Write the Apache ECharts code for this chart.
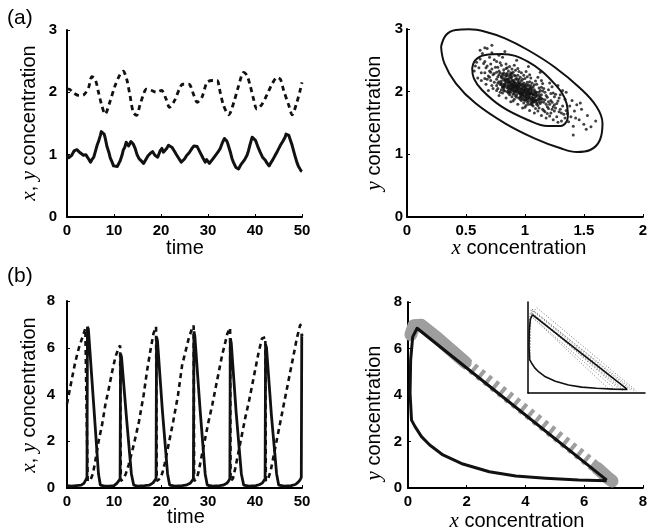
<!DOCTYPE html>
<html>
<head>
<meta charset="utf-8">
<script src="https://cdn.jsdelivr.net/npm/echarts@6/dist/echarts.min.js"></script>
<style>
  html, body { margin: 0; padding: 0; background: #fff; }
  #chart { width: 650px; height: 532px; }
</style>
</head>
<body>
<div id="chart"></div>
<script>
// ---------- (a) noisy near-equilibrium run ----------
// time, x concentration (solid)
const aSolid = [[0,0.99],[0.35,0.95],[0.7,0.94],[1.0,0.99],[1.2,1.0],[1.5,1.06],[1.8,1.04],[2.1,1.08],[2.5,1.07],[2.8,1.03],[3.2,1.02],[3.5,0.99],[3.8,0.97],[4.0,1.0],[4.3,0.99],[4.6,0.93],[5.0,0.88],[5.3,0.92],[5.7,0.96],[6.0,1.04],[6.4,1.15],[6.7,1.21],[7.1,1.31],[7.3,1.37],[7.6,1.39],[7.9,1.33],[8.15,1.26],[8.5,1.13],[8.9,1.04],[9.2,0.95],[9.6,0.88],[9.9,0.82],[10.3,0.80],[10.7,0.81],[11.0,0.83],[11.3,0.90],[11.7,0.99],[12.0,1.08],[12.3,1.12],[12.6,1.20],[12.8,1.18],[13.1,1.14],[13.3,1.16],[13.6,1.21],[13.8,1.23],[14.1,1.17],[14.5,1.10],[14.9,1.00],[15.3,0.94],[15.8,0.90],[16.3,0.86],[16.6,0.90],[16.9,0.92],[17.2,0.98],[17.4,0.99],[17.7,1.02],[18.0,1.0],[18.2,1.05],[18.4,1.04],[18.7,0.99],[19.0,1.01],[19.3,0.96],[19.5,0.99],[19.8,1.06],[20.2,1.10],[20.5,1.04],[20.9,1.02],[21.2,1.10],[21.6,1.15],[21.9,1.16],[22.3,1.12],[22.6,1.09],[22.9,1.05],[23.2,1.01],[23.4,0.99],[23.7,0.95],[24.0,0.93],[24.3,0.88],[24.5,0.87],[25.0,0.93],[25.5,0.99],[26.0,1.03],[26.6,1.10],[27.0,1.14],[27.4,1.16],[27.7,1.13],[27.9,1.10],[28.1,1.07],[28.4,1.04],[28.9,0.95],[29.4,0.88],[29.7,0.92],[30.0,0.91],[30.3,0.86],[30.5,0.88],[31.0,0.93],[31.6,0.99],[32.1,1.04],[32.6,1.10],[33.0,1.18],[33.5,1.26],[33.8,1.23],[34.0,1.22],[34.2,1.18],[34.4,1.15],[34.8,1.03],[35.1,0.94],[35.4,0.88],[35.6,0.85],[35.9,0.80],[36.2,0.78],[36.5,0.77],[36.7,0.80],[37.0,0.84],[37.2,0.86],[37.8,0.92],[38.3,0.99],[38.6,1.06],[38.9,1.15],[39.2,1.23],[39.4,1.28],[39.6,1.25],[39.8,1.27],[40.1,1.23],[40.6,1.13],[41.1,1.04],[41.6,0.96],[42.2,0.91],[42.5,0.87],[42.8,0.86],[43.0,0.82],[43.3,0.86],[43.8,0.92],[44.3,0.99],[44.8,1.06],[45.4,1.15],[45.9,1.21],[46.4,1.28],[46.6,1.33],[46.8,1.32],[47.0,1.34],[47.2,1.31],[47.5,1.24],[47.9,1.15],[48.4,1.01],[48.9,0.88],[49.2,0.82],[49.5,0.78],[49.8,0.74],[50.0,0.73]];
// time, y concentration (dashed)
const aDashed = [[0,2.05],[0.4,2.05],[1.4,1.99],[2.5,1.95],[3.55,1.96],[4.6,2.08],[5.3,2.25],[6.0,2.21],[6.7,2.0],[7.4,1.79],[8.1,1.65],[9.1,1.84],[10.2,2.1],[11.3,2.29],[11.95,2.34],[12.7,2.21],[13.4,1.95],[14.1,1.68],[14.8,1.63],[15.5,1.79],[16.2,1.95],[16.9,2.05],[18.0,2.03],[19.0,2.0],[20.1,2.03],[21.1,1.89],[21.8,1.76],[22.9,1.87],[23.9,2.05],[24.6,2.13],[25.9,2.13],[27.0,1.95],[27.7,1.84],[28.7,1.92],[29.8,2.16],[30.9,2.19],[31.9,2.19],[32.6,2.0],[33.3,1.79],[34.4,1.64],[35.5,1.84],[36.5,2.1],[37.6,2.32],[38.3,2.27],[39.0,2.1],[39.7,1.89],[40.4,1.73],[41.5,1.81],[42.6,1.97],[43.6,2.13],[44.7,2.24],[45.4,2.21],[46.1,2.03],[47.2,1.79],[47.9,1.64],[48.9,1.84],[49.6,2.03],[50.0,2.16]];

// sampled (x, y) states
const cloudPoints = [
[0.58,2.41],[0.60,2.22],[0.62,2.52],[0.63,2.30],[0.61,2.38],[0.64,2.61],[0.57,2.33],[0.65,2.45],[0.63,2.18],[0.59,2.47],
[0.66,2.30],[0.67,2.12],[0.68,2.41],[0.69,2.25],[0.70,2.55],[0.71,2.18],[0.72,2.36],[0.73,2.05],[0.74,2.29],[0.66,2.48],[0.68,2.20],[0.70,2.33],[0.72,2.62],[0.74,2.15],[0.67,2.38],[0.69,2.02],[0.71,2.44],[0.73,2.27],[0.75,2.39],[0.70,2.23],[0.68,2.69],[0.72,2.10],[0.74,2.51],[0.66,2.21],[0.71,2.31],
[0.76,2.20],[0.77,2.05],[0.78,2.33],[0.79,2.12],[0.80,2.42],[0.81,1.98],[0.82,2.26],[0.83,2.08],[0.84,2.37],[0.85,2.15],
[0.76,2.48],[0.77,2.24],[0.78,1.94],[0.79,2.30],[0.80,2.11],[0.81,2.55],[0.82,2.02],[0.83,2.21],[0.84,1.90],[0.85,2.29],
[0.76,2.10],[0.77,2.39],[0.78,2.16],[0.79,2.46],[0.80,2.23],[0.81,2.07],[0.82,2.35],[0.83,2.64],[0.84,2.19],[0.85,2.00],
[0.76,2.31],[0.78,2.27],[0.80,2.03],[0.82,2.19],[0.84,2.44],[0.77,2.14],[0.79,1.99],[0.81,2.28],[0.83,2.12],[0.85,2.38],
[0.80,2.17],[0.78,2.58],[0.82,2.09],[0.76,2.02],[0.84,2.25],
[0.86,2.10],[0.87,1.95],[0.88,2.22],[0.89,2.03],[0.90,2.31],[0.91,1.88],[0.92,2.14],[0.93,2.00],[0.94,2.26],[0.95,2.07],
[0.86,2.33],[0.87,2.15],[0.88,1.84],[0.89,2.19],[0.90,2.01],[0.91,2.42],[0.92,1.93],[0.93,2.11],[0.94,1.80],[0.95,2.20],
[0.86,1.98],[0.87,2.27],[0.88,2.06],[0.89,2.36],[0.90,2.12],[0.91,1.97],[0.92,2.25],[0.93,2.50],[0.94,2.08],[0.95,1.90],
[0.86,2.20],[0.87,2.04],[0.88,2.30],[0.89,1.92],[0.90,2.18],[0.91,2.07],[0.92,2.02],[0.93,2.21],[0.94,2.14],[0.95,2.32],
[0.86,2.06],[0.87,2.40],[0.88,2.13],[0.89,2.09],[0.90,1.85],[0.91,2.16],[0.92,2.34],[0.93,1.95],[0.94,2.03],[0.95,2.12],
[0.88,1.99],[0.90,2.08],[0.92,2.10],[0.94,2.37],[0.86,2.13],[0.89,2.24],[0.91,2.00],[0.93,2.06],[0.95,1.98],[0.87,2.09],
[0.96,2.00],[0.97,1.86],[0.98,2.12],[0.99,1.93],[1.00,2.21],[1.01,1.78],[1.02,2.04],[1.03,1.90],[1.04,2.16],[1.05,1.97],
[0.96,2.23],[0.97,2.05],[0.98,1.74],[0.99,2.09],[1.00,1.91],[1.01,2.32],[1.02,1.83],[1.03,2.01],[1.04,1.70],[1.05,2.10],
[0.96,1.88],[0.97,2.17],[0.98,1.96],[0.99,2.26],[1.00,2.02],[1.01,1.87],[1.02,2.15],[1.03,2.40],[1.04,1.98],[1.05,1.80],
[0.96,2.10],[0.97,1.94],[0.98,2.20],[0.99,1.82],[1.00,2.08],[1.01,1.97],[1.02,1.92],[1.03,2.11],[1.04,2.04],[1.05,2.22],
[0.96,1.96],[0.97,2.30],[0.98,2.03],[0.99,1.99],[1.00,1.75],[1.01,2.06],[1.02,2.24],[1.03,1.85],[1.04,1.93],[1.05,2.02],
[0.98,1.89],[1.00,1.98],[1.02,2.00],[1.04,2.27],[0.96,2.03],[0.99,2.14],[1.01,1.90],[1.03,1.96],[1.05,1.88],[0.97,1.99],
[1.06,1.92],[1.07,1.77],[1.08,2.03],[1.09,1.85],[1.10,2.12],[1.11,1.69],[1.12,1.95],[1.13,1.81],[1.14,2.07],[1.15,1.88],
[1.06,2.14],[1.07,1.96],[1.08,1.66],[1.09,2.00],[1.10,1.82],[1.11,2.23],[1.12,1.74],[1.13,1.92],[1.14,1.62],[1.15,2.01],
[1.06,1.79],[1.07,2.08],[1.08,1.87],[1.09,2.17],[1.10,1.93],[1.11,1.78],[1.12,2.06],[1.13,2.31],[1.14,1.89],[1.15,1.72],
[1.06,2.01],[1.07,1.85],[1.08,2.11],[1.09,1.73],[1.10,1.99],[1.11,1.88],[1.12,1.83],[1.13,2.02],[1.14,1.95],[1.15,2.13],
[1.08,1.90],[1.10,1.86],[1.12,1.91],[1.14,2.18],[1.06,1.87],
[1.16,1.83],[1.17,1.68],[1.18,1.94],[1.19,1.76],[1.20,2.03],[1.21,1.61],[1.22,1.86],[1.23,1.72],[1.24,1.98],[1.25,1.79],
[1.16,2.05],[1.17,1.87],[1.18,1.58],[1.19,1.91],[1.20,1.73],[1.21,2.14],[1.22,1.66],[1.23,1.83],[1.24,1.55],[1.25,1.92],
[1.16,1.70],[1.18,1.80],[1.20,1.84],[1.22,1.97],[1.24,1.76],[1.17,1.99],[1.19,1.65],[1.21,1.80],[1.23,2.08],[1.25,1.69],
[1.26,1.74],[1.27,1.60],[1.28,1.85],[1.29,1.68],[1.30,1.95],[1.31,1.53],[1.32,1.77],[1.33,1.64],[1.34,1.88],[1.35,1.70],
[1.26,1.96],[1.28,1.51],[1.30,1.72],[1.32,2.02],[1.34,1.58],[1.27,1.81],[1.29,1.90],[1.31,1.66],
[1.36,1.65],[1.37,1.52],[1.38,1.77],[1.39,1.60],[1.40,1.86],[1.41,1.45],[1.42,1.69],[1.44,1.79],[1.43,1.58],
[1.46,1.55],[1.48,1.72],[1.50,1.48],[1.53,1.62],[1.56,1.44],[1.60,1.53],
[0.66,2.70],[0.72,2.74],[0.62,2.66],[1.41,1.31],[1.52,1.40],[1.28,2.10],[1.35,1.99],[1.47,1.82],
[0.80,2.14],[0.81,2.22],[0.82,2.12],[0.83,2.17],[0.84,2.10],[0.85,2.20],[0.86,2.08],[0.87,2.16],[0.88,2.03],[0.89,2.12],
[0.90,2.06],[0.91,2.13],[0.92,2.01],[0.93,2.09],[0.94,1.99],[0.95,2.06],[0.96,1.97],[0.97,2.04],[0.98,1.95],[0.99,2.02],
[1.00,1.93],[1.01,2.01],[1.02,1.95],[1.03,2.04],[1.04,1.90],[1.05,1.98],[1.06,1.88],[1.07,1.95],[1.08,1.84],[1.09,1.92],
[0.80,2.25],[0.82,2.05],[0.84,2.28],[0.86,2.18],[0.88,2.26],[0.90,1.96],[0.92,2.20],[0.94,2.10],[0.96,2.13],[0.98,2.08],
[1.00,2.10],[1.02,1.88],[1.04,2.08],[1.06,1.97],[1.08,2.00],[1.10,1.80],[1.12,1.87],[1.14,1.84],[0.83,2.01],[0.87,1.99],
[0.89,2.29],[0.91,2.04],[0.93,1.91],[0.95,2.15],[0.97,2.11],[0.99,1.87],[1.01,2.12],[1.03,1.80],[1.05,2.06],[1.07,1.83],
[0.85,2.06],[0.88,2.16],[0.91,2.26],[0.94,2.18],[0.97,1.91],[1.00,2.04],[1.03,1.99],[1.06,2.05],[1.09,1.97],[1.12,1.99],
[0.81,2.08],[0.84,2.15],[0.87,2.23],[0.90,2.16],[0.93,2.03],[0.96,1.92],[0.99,2.05],[1.02,2.09],[1.05,1.84],[1.08,1.95],
[0.86,2.02],[0.89,2.06],[0.92,2.07],[0.95,2.00],[0.98,1.99],[1.01,1.95],[1.04,1.96],[1.07,1.90],[1.10,1.95],[1.13,1.88],
[0.82,2.30],[0.85,2.25],[0.88,2.10],[0.91,2.10],[0.94,2.05],[0.97,1.97],[1.00,1.86],[1.03,1.91],[1.06,1.82],[1.09,1.86]
];
// contour outlines around the sampled states
const outerContour = [[0.289,2.717],[0.331,2.904],[0.414,2.984],[0.525,2.995],[0.664,2.957],[0.831,2.851],[1.025,2.665],[1.248,2.398],[1.469,2.054],[1.608,1.760],[1.658,1.495],[1.636,1.229],[1.553,1.069],[1.442,1.037],[1.303,1.096],[1.081,1.256],[0.831,1.495],[0.581,1.814],[0.414,2.133],[0.317,2.452],[0.289,2.717]];
const innerContour = [[0.553,2.373],[0.581,2.505],[0.664,2.585],[0.803,2.601],[1.025,2.478],[1.248,2.133],[1.353,1.814],[1.364,1.600],[1.303,1.452],[1.192,1.452],[1.025,1.548],[0.803,1.760],[0.636,2.026],[0.567,2.213],[0.553,2.373]];

// ---------- (b) relaxation oscillations ----------
const bSolid = [[0,0.1],[1,0.08],[2,0.1],[3,0.12],[3.6,0.2],[4.0,0.35],[4.25,0.45],[4.35,6.9],[4.55,6.8],[5.7,3.5],[6.7,0.6],[7.1,0.12],[8,0.08],
[9,0.08],[10,0.1],[10.6,0.2],[11.0,0.3],[11.3,0.4],[11.4,5.75],[11.6,5.6],[12.7,2.9],[13.7,0.6],[14.2,0.12],[15,0.08],[16.5,0.1],
[17.5,0.12],[18.3,0.22],[18.7,0.3],[18.95,0.4],[19.05,6.47],[19.25,6.3],[20.3,3.3],[21.4,0.6],[21.85,0.12],[23,0.08],[24.5,0.1],
[25.3,0.12],[26.2,0.2],[26.6,0.3],[26.9,0.4],[27.0,6.7],[27.2,6.5],[28.3,3.4],[29.4,0.6],[29.85,0.12],[31,0.08],[32.5,0.1],
[33.2,0.12],[34.0,0.2],[34.4,0.3],[34.65,0.4],[34.75,6.4],[34.95,6.2],[36.0,3.2],[37.1,0.6],[37.6,0.12],[38.7,0.08],[40.2,0.1],
[41.0,0.15],[41.6,0.22],[41.95,0.3],[42.15,0.4],[42.25,6.14],[42.45,6.0],[43.5,3.1],[44.6,0.6],[45.05,0.12],[46.2,0.08],[47.7,0.1],
[48.6,0.15],[49.2,0.25],[49.6,0.35],[49.85,0.45],[49.95,6.6],[50,6.5]];
const bDashed = [[0,3.6],[0.36,3.97],[1.06,4.69],[1.77,5.4],[2.5,5.97],[3.2,6.4],[3.9,6.82],[4.25,6.9],
[4.4,0.3],[5.0,0.35],[5.5,0.6],[6.0,1.13],[6.7,1.98],[7.45,2.69],[8.15,3.55],[8.9,4.26],[9.6,4.97],[10.3,5.61],[11.0,6.0],[11.3,6.1],
[11.45,0.3],[12.0,0.4],[12.5,0.6],[13.1,0.98],[14.2,1.84],[15.3,2.83],[16.3,3.97],[17.0,4.97],[17.7,5.83],[18.4,6.61],[18.95,6.9],
[19.1,0.3],[19.8,0.4],[20.3,0.65],[20.8,1.05],[21.6,1.85],[22.6,2.85],[23.6,3.95],[24.5,5.26],[25.2,5.83],[25.9,6.4],[26.6,6.82],[26.95,6.95],
[27.05,0.3],[27.6,0.4],[28.0,0.7],[28.7,1.41],[29.4,2.12],[30.1,2.83],[30.9,3.55],[31.6,4.26],[32.3,4.97],[33.0,5.68],[33.7,6.25],[34.1,6.6],[34.7,6.85],
[34.8,0.3],[35.3,0.4],[35.8,0.84],[36.5,1.55],[37.2,2.26],[37.9,2.98],[38.7,3.69],[39.4,4.4],[40.1,5.12],[40.8,5.83],[41.5,6.4],[42.2,6.45],
[42.3,0.3],[42.8,0.4],[43.3,0.7],[44.0,1.41],[44.7,2.12],[45.4,2.83],[46.1,3.55],[46.8,4.26],[47.5,4.97],[48.2,5.68],[48.9,6.4],[49.6,6.97],[49.9,7.0]];

// deterministic limit cycle in the (x, y) plane
const limitCycle = [[6.77,0.31],[5.81,0.34],[4.69,0.42],[3.67,0.52],[2.77,0.70],[1.87,1.03],[1.19,1.42],[0.74,1.85],[0.46,2.21],[0.24,2.64],[0.12,2.92],[0.07,4.07],[0.09,5.5],[0.16,6.5],[0.31,6.87],[3.0,4.15],[6.77,0.34]];
// stochastic trajectories (broad grey band)
const noisyBandHead = [[0.1,6.6],[0.2,6.98],[0.45,7.0],[1.0,6.45],[1.95,5.4]];
const noisyBandMid = [[1.95,5.4],[6.45,0.85]];
const noisyBandTail = [[6.45,0.85],[6.8,0.45],[6.95,0.3]];
// individual stochastic runs shown in the inset
const insetRuns = [
  [[0.1,3.0],[0.12,6.9],[0.25,7.4],[7.1,0.2]],
  [[0.15,3.2],[0.2,6.8],[0.35,7.2],[6.9,0.2]],
  [[0.3,7.0],[6.6,0.25]],
  [[0.5,6.8],[6.3,0.25]],
  [[0.2,6.9],[0.6,7.5],[7.4,0.2]],
  [[0.2,7.1],[6.8,0.3]],
  [[0.45,6.5],[6.0,0.3]],
  [[0.8,6.4],[6.5,0.2]],
  [[0.3,7.3],[7.3,0.15]],
  [[0.35,6.6],[5.6,0.25]]
];

const tickFont = { color: '#000', fontFamily: 'Liberation Sans', fontWeight: 'bold', fontSize: 15 };
const nameFont = 'Liberation Sans';
const italic = { fontFamily: 'Liberation Serif', fontStyle: 'italic', fontSize: 21, fill: '#000' };

function valueAxis(gridIndex, min, max, interval, margin, extra) {
  return Object.assign({
    type: 'value', gridIndex, min, max, interval,
    axisLine: { show: true, onZero: false, lineStyle: { color: '#000', width: 2 } },
    axisTick: { show: true, inside: true, length: 3, lineStyle: { color: '#000', width: 1 } },
    axisLabel: Object.assign({ margin }, tickFont),
    splitLine: { show: false }
  }, extra || {});
}

function axisName(text, x, y, rotate) {
  return {
    type: 'text', x, y, rotation: rotate ? Math.PI / 2 : 0,
    style: {
      text, fill: '#000', fontFamily: nameFont, fontSize: 20,
      align: 'center', verticalAlign: 'middle',
      rich: { i: italic, n: { fontFamily: nameFont, fontSize: 20, fill: '#000' } }
    }
  };
}

const plainAxis = { axisTick: { show: false }, axisLabel: { show: false }, axisLine: { show: true, onZero: false, lineStyle: { color: '#000', width: 1.5 } } };

const chart = echarts.init(document.getElementById('chart'), null, { renderer: 'canvas' });
chart.setOption({
  animation: false,
  backgroundColor: '#fff',
  grid: [
    { left: 67, top: 30, width: 235, height: 187 },
    { left: 407, top: 29, width: 240, height: 188 },
    { left: 67, top: 301, width: 235, height: 187 },
    { left: 408, top: 302, width: 237, height: 186 },
    { left: 528, top: 302, width: 117, height: 91 }
  ],
  xAxis: [
    valueAxis(0, 0, 50, 10, 6),
    valueAxis(1, 0, 2, 0.5, 6),
    valueAxis(2, 0, 50, 10, 6),
    valueAxis(3, 0, 8, 2, 6),
    valueAxis(4, 0, 8, 2, 6, plainAxis)
  ],
  yAxis: [
    valueAxis(0, 0, 3, 1, 10),
    valueAxis(1, 0, 3, 1, 4),
    valueAxis(2, 0, 8, 2, 12),
    valueAxis(3, 0, 8, 2, 6),
    valueAxis(4, 0, 8, 2, 6, plainAxis)
  ],
  graphic: [
    { type: 'text', left: 7, top: 8, style: { text: '(a)', fontFamily: nameFont, fontSize: 21, fill: '#000' } },
    { type: 'text', left: 7, top: 266, style: { text: '(b)', fontFamily: nameFont, fontSize: 21, fill: '#000' } },
    axisName('{i|x}{n|, }{i|y}{n| concentration}', 29, 123, true),
    axisName('time', 185, 248, false),
    axisName('{i|y}{n| concentration}', 374, 123, true),
    axisName('{i|x}{n| concentration}', 519, 248, false),
    axisName('{i|x}{n|, }{i|y}{n| concentration}', 29, 395, true),
    axisName('time', 186, 517, false),
    axisName('{i|y}{n| concentration}', 374, 413, true),
    axisName('{i|x}{n| concentration}', 517, 521, false)
  ],
  series: [
    // (a) time series
    { type: 'line', xAxisIndex: 0, yAxisIndex: 0, data: aDashed, showSymbol: false, smooth: 0.3,
      lineStyle: { color: '#111', width: 2.8, type: [5, 4] } },
    { type: 'line', xAxisIndex: 0, yAxisIndex: 0, data: aSolid, showSymbol: false,
      lineStyle: { color: '#111', width: 3, join: 'round' } },
    // (a) phase plane
    { type: 'scatter', xAxisIndex: 1, yAxisIndex: 1, data: cloudPoints, symbolSize: 3,
      itemStyle: { color: '#111' } },
    { type: 'line', xAxisIndex: 1, yAxisIndex: 1, data: outerContour, showSymbol: false, smooth: 0.4,
      lineStyle: { color: '#111', width: 2 } },
    { type: 'line', xAxisIndex: 1, yAxisIndex: 1, data: innerContour, showSymbol: false, smooth: 0.4,
      lineStyle: { color: '#111', width: 2 } },
    // (b) time series
    { type: 'line', xAxisIndex: 2, yAxisIndex: 2, data: bDashed, showSymbol: false,
      lineStyle: { color: '#111', width: 2.6, type: [5, 4] } },
    { type: 'line', xAxisIndex: 2, yAxisIndex: 2, data: bSolid, showSymbol: false,
      lineStyle: { color: '#111', width: 2.8 } },
    // (b) phase plane
    { type: 'line', xAxisIndex: 3, yAxisIndex: 3, data: noisyBandHead, showSymbol: false,
      lineStyle: { color: '#9e9e9e', width: 13, cap: 'round', join: 'round' } },
    { type: 'line', xAxisIndex: 3, yAxisIndex: 3, data: noisyBandMid, showSymbol: false,
      lineStyle: { color: '#9e9e9e', width: 12, type: [4, 5], cap: 'butt' } },
    { type: 'line', xAxisIndex: 3, yAxisIndex: 3, data: noisyBandTail, showSymbol: false,
      lineStyle: { color: '#9e9e9e', width: 13, cap: 'round', join: 'round' } },
    { type: 'line', xAxisIndex: 3, yAxisIndex: 3, data: limitCycle, showSymbol: false,
      lineStyle: { color: '#111', width: 3, join: 'round' } },
    // inset
    ...insetRuns.map(run => ({
      type: 'line', xAxisIndex: 4, yAxisIndex: 4, data: run, showSymbol: false,
      lineStyle: { color: '#555', width: 0.8, type: [1, 2] }
    })),
    { type: 'line', xAxisIndex: 4, yAxisIndex: 4, data: limitCycle, showSymbol: false,
      lineStyle: { color: '#111', width: 1.6 } }
  ]
});
</script>
</body>
</html>
